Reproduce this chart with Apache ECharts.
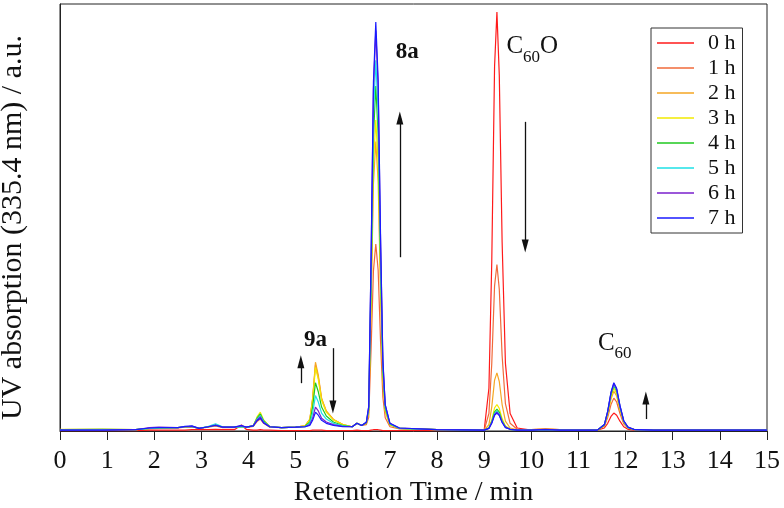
<!DOCTYPE html>
<html>
<head>
<meta charset="utf-8">
<script src="https://cdn.jsdelivr.net/npm/echarts@6/dist/echarts.min.js"></script>
<style>
html,body{margin:0;padding:0;background:#fff;}
#chart{width:784px;height:508px;}
</style>
</head>
<body>
<div id="chart"></div>
<script>
// Retention time grid (min)
const times = [0,0.9,1.6,1.9,2.1,2.5,2.65,2.8,2.95,3.15,3.3,3.45,3.7,3.85,3.95,4.1,4.18,4.25,4.32,4.45,4.7,5.0,
  5.2,5.3,5.36,5.42,5.48,5.55,5.65,5.8,6.0,6.2,6.3,6.4,
  6.5,6.55,6.6,6.65,6.7,6.75,6.8,6.85,6.9,7.0,7.2,
  8.0,9.0,
  9.1,9.16,9.22,9.27,9.32,9.38,9.45,9.55,9.7,
  10.0,10.3,10.6,11.4,
  11.55,11.62,11.69,11.75,11.81,11.88,11.96,12.05,12.2,
  12.6,15];

const seriesNames = ['0 h','1 h','2 h','3 h','4 h','5 h','6 h','7 h'];
const seriesColors = ['#ff1a1a','#f06a3a','#f5a623','#f2ea00','#1fc81f','#1ee0e6','#7a1fcc','#1a1aff'];

const abs0h = [0.1,0.1,0.1,0.2,0.2,0.2,0.2,0.3,0.3,0.3,0.4,0.3,0.3,1.4,0.4,0.2,0.2,0.3,0.2,0.2,0.1,0.1,
  0.1,0.1,0.2,0.2,0.2,0.2,0.1,0.1,0.1,0.1,0.2,0.1,
  0.1,0.1,0.2,0.3,0.3,0.3,0.2,0.1,0.1,0.1,0.1,
  0.1,0.2,
  10.0,39.4,85.4,98.1,83.4,44.3,15.9,4.1,0.7,
  0.2,0.3,0.2,0.2,
  0.7,1.8,3.4,4.2,3.7,2.3,1.0,0.4,0.2,
  0.2,0.2];
const abs1h = [0.2,0.2,0.3,0.5,0.6,0.7,0.9,1.0,0.6,0.9,1.2,0.8,0.8,1.2,0.8,1.1,2.2,2.8,1.8,0.9,0.8,0.9,
  1.2,2.7,7.5,15.5,12.6,7.5,4.6,2.7,1.5,1.0,1.8,1.3,
  1.5,3.2,19.1,37.5,43.8,37.7,21.2,7.9,3.1,1.0,0.5,
  0.3,0.2,
  4.1,15.7,34.0,39.0,33.2,17.7,6.4,1.8,0.4,
  0.3,0.5,0.3,0.2,
  1.1,3.2,6.2,7.7,6.8,4.1,1.7,0.7,0.3,
  0.2,0.2];
const abs2h = [0.3,0.4,0.3,0.6,0.6,0.8,0.9,1.0,0.6,1.0,1.3,0.9,0.9,1.1,0.9,1.2,2.9,3.8,2.3,1.0,0.8,0.9,
  1.2,2.7,7.7,16.1,13.1,7.7,4.7,2.7,1.5,1.0,1.8,1.3,
  1.8,4.4,29.1,57.9,67.8,58.3,32.8,12.0,4.5,1.4,0.6,
  0.3,0.2,
  1.5,5.6,11.9,13.6,11.6,6.2,2.3,0.7,0.3,
  0.3,0.5,0.3,0.2,
  1.3,3.8,7.5,9.3,8.2,4.9,2.0,0.7,0.3,
  0.2,0.2];
const abs3h = [0.4,0.4,0.3,0.6,0.7,0.8,1.0,1.1,0.6,1.0,1.4,0.9,0.9,1.1,0.9,1.2,3.3,4.4,2.6,1.0,0.8,0.9,
  1.2,2.6,7.2,14.9,12.1,7.2,4.4,2.6,1.5,1.0,1.8,1.3,
  1.8,4.6,31.2,62.1,72.8,62.6,35.2,12.8,4.8,1.5,0.6,
  0.3,0.2,
  0.8,2.6,5.4,6.2,5.3,2.9,1.2,0.4,0.2,
  0.2,0.3,0.2,0.2,
  1.4,4.1,8.0,10.0,8.8,5.3,2.2,0.8,0.3,
  0.2,0.2];
const abs4h = [0.3,0.4,0.3,0.6,0.7,0.8,1.0,1.0,0.6,1.0,1.4,0.9,0.9,1.0,0.9,1.2,3.0,4.0,2.4,1.0,0.8,0.9,
  1.1,2.1,5.6,11.3,9.2,5.6,3.5,2.1,1.3,1.0,1.8,1.3,
  1.9,5.0,34.6,68.9,80.8,69.5,39.0,14.2,5.3,1.6,0.6,
  0.3,0.2,
  0.7,2.2,4.5,5.1,4.4,2.4,1.0,0.4,0.2,
  0.2,0.3,0.2,0.2,
  1.4,4.4,8.5,10.6,9.4,5.6,2.3,0.8,0.3,
  0.2,0.2];
const abs5h = [0.2,0.3,0.3,0.6,0.7,0.8,1.0,1.1,0.6,1.1,1.7,1.0,0.9,1.0,0.9,1.2,2.8,3.6,2.2,1.0,0.8,0.9,
  1.0,1.8,4.2,8.3,6.8,4.2,2.8,1.8,1.2,1.0,1.8,1.3,
  2.0,5.3,37.1,74.0,86.8,74.7,41.9,15.2,5.7,1.7,0.6,
  0.3,0.2,
  0.7,2.0,4.1,4.7,4.0,2.2,0.9,0.4,0.2,
  0.2,0.3,0.2,0.2,
  1.5,4.5,8.8,10.9,9.6,5.8,2.3,0.8,0.3,
  0.2,0.2];
const abs6h = [0.2,0.2,0.3,0.8,0.9,0.8,1.0,1.1,0.6,1.0,1.4,0.9,0.9,1.2,0.9,1.2,2.6,3.3,2.0,1.0,0.8,0.9,
  1.0,1.5,3.0,5.6,4.7,3.0,2.1,1.5,1.1,1.0,1.8,1.3,
  2.0,5.7,40.1,80.0,93.8,80.7,45.2,16.4,6.1,1.8,0.7,
  0.3,0.2,
  0.6,1.9,3.9,4.4,3.8,2.1,0.9,0.4,0.2,
  0.2,0.4,0.2,0.2,
  1.5,4.6,8.9,11.1,9.8,5.9,2.4,0.9,0.3,
  0.2,0.2];
const abs7h = [0.2,0.2,0.3,0.7,0.8,0.8,1.1,1.2,0.6,1.0,1.3,0.9,0.9,1.3,0.9,1.2,2.4,3.0,1.9,1.0,0.8,0.9,
  1.0,1.3,2.5,4.4,3.7,2.5,1.8,1.3,1.0,1.0,1.8,1.3,
  2.1,5.8,40.9,81.7,95.8,82.4,46.2,16.8,6.2,1.8,0.7,
  0.3,0.2,
  0.6,1.8,3.7,4.2,3.6,2.0,0.8,0.4,0.2,
  0.2,0.3,0.2,0.2,
  1.5,4.6,9.1,11.3,10.0,6.0,2.4,0.9,0.3,
  0.2,0.2];

const xTicks = [0,1,2,3,4,5,6,7,8,9,10,11,12,13,14,15];

// Annotation labels [time, absorbance]
const labelPeaks = [
  {name:'8a', coord:[7.37, 88.8]},
  {name:'9a', coord:[5.42, 21.3]},
  {name:'C60O', coord:[10.02, 90.0]},
  {name:'C60', coord:[11.77, 20.6]}
];
// Arrows [time, from, to]
const arrows = [
  [7.21, 40.7, 73.3],
  [9.87, 72.4, 43.3],
  [5.11, 11.2, 16.2],
  [5.79, 19.4, 5.6],
  [12.43, 2.8, 7.7]
];

const allAbs = [abs0h,abs1h,abs2h,abs3h,abs4h,abs5h,abs6h,abs7h];
const FONT = 'Liberation Serif';

const richLabels = {
  '8a':'{b|8a}', '9a':'{b|9a}',
  'C60O':'{c|C}{s|60}{c|O}', 'C60':'{c|C}{s|60}'
};

const series = seriesNames.map((nm, k) => ({
  name: nm, type: 'line', symbol: 'none', showSymbol: false,
  data: times.map((t, i) => [t, allAbs[k][i]]),
  lineStyle: {width: 1.2, color: seriesColors[k]},
  itemStyle: {color: seriesColors[k]},
  z: 2 + k
}));

series[7].markLine = {
  silent: true, animation: false,
  symbol: ['none', 'triangle'], symbolSize: [7, 13],
  label: {show: false},
  lineStyle: {color: '#111', width: 1.3, type: 'solid'},
  emphasis: {disabled: true},
  data: arrows.map(a => [{coord: [a[0], a[1]]}, {coord: [a[0], a[2]]}])
};
series[7].markPoint = {
  silent: true, animation: false, symbol: 'circle', symbolSize: 0,
  data: labelPeaks.map(p => ({
    coord: p.coord,
    label: {
      show: true, position: 'inside',
      formatter: richLabels[p.name],
      rich: {
        b: {fontFamily: FONT, fontSize: 23, fontWeight: 'bold', color: '#111', lineHeight: 26},
        c: {fontFamily: FONT, fontSize: 25, color: '#111', lineHeight: 26, verticalAlign: 'middle'},
        s: {fontFamily: FONT, fontSize: 17, color: '#111', lineHeight: 14, verticalAlign: 'bottom', padding: [0, 0, -6, 0]}
      }
    }
  }))
};

const chart = echarts.init(document.getElementById('chart'), null, {renderer: 'canvas'});
chart.setOption({
  animation: false,
  backgroundColor: '#fff',
  grid: {left: 60, right: 17, top: 4, bottom: 77, show: true, borderColor: '#222', borderWidth: 1,
    backgroundColor: 'transparent', containLabel: false, outerBoundsMode: 'none'},
  legend: {
    orient: 'vertical', left: 651, top: 28,
    padding: [4, 7, 4, 6],
    icon: 'rect',
    itemWidth: 37, itemHeight: 1.6, itemGap: 3,
    borderColor: '#333', borderWidth: 1, backgroundColor: '#fff',
    textStyle: {fontFamily: FONT, fontSize: 22, color: '#111', padding: [0, 0, 0, 9], lineHeight: 22},
    data: seriesNames
  },
  xAxis: {
    type: 'value', min: xTicks[0], max: xTicks[xTicks.length - 1], interval: 1,
    name: 'Retention Time / min', nameLocation: 'middle', nameGap: 47,
    nameTextStyle: {fontFamily: FONT, fontSize: 28, color: '#111'},
    axisLine: {show: true, lineStyle: {color: '#222', width: 1}},
    axisTick: {show: true, inside: false, length: 9, lineStyle: {color: '#222'}},
    axisLabel: {fontFamily: FONT, fontSize: 26, color: '#111', margin: 17},
    splitLine: {show: false}
  },
  yAxis: {
    type: 'value', min: 0, max: 100,
    name: 'UV absorption (335.4 nm) / a.u.', nameLocation: 'middle', nameRotate: 90, nameGap: 32,
    nameTextStyle: {fontFamily: FONT, fontSize: 30, color: '#111', padding: [0, 20, 0, 0]},
    axisLine: {show: true, lineStyle: {color: '#222', width: 1}},
    axisTick: {show: false}, axisLabel: {show: false}, splitLine: {show: false}
  },
  series: series
});
</script>
</body>
</html>
